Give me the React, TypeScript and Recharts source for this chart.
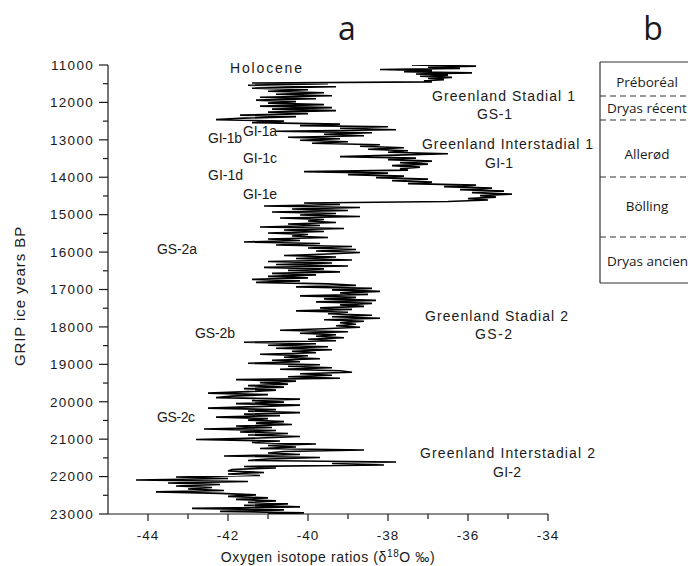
import React from 'react';
import { ScatterChart, Scatter, XAxis, YAxis } from 'recharts';

// GRIP record: [age (ice years BP), d18O (permil)]
const preboreal: [number, number][] = [
  [11000, -37.4], [11030, -35.8], [11060, -37.0], [11090, -36.2], [11120, -38.2],
  [11150, -36.9], [11180, -37.6], [11210, -35.9], [11240, -37.3], [11270, -36.5],
  [11300, -37.2], [11330, -36.4], [11360, -37.0], [11390, -36.6], [11420, -37.1],
  [11450, -36.9],
];

const stadialGS1: [number, number][] = [
  [11480, -41.4], [11500, -39.5], [11540, -41.5], [11580, -39.3], [11620, -41.4],
  [11660, -40.0], [11700, -41.0], [11740, -39.6], [11780, -40.8], [11820, -39.4],
  [11860, -41.2], [11900, -39.8], [11940, -41.3], [11980, -40.3], [12020, -41.0],
  [12060, -39.6], [12100, -41.2], [12140, -39.4], [12180, -40.9], [12220, -39.3],
  [12260, -41.0], [12300, -40.0], [12340, -41.7], [12380, -40.3], [12420, -41.6],
  [12460, -42.3], [12500, -40.6], [12540, -41.4], [12580, -39.2], [12620, -40.2],
];

const interstadialGI1: [number, number][] = [
  [12650, -38.0], [12690, -39.2], [12730, -37.8], [12770, -40.8], [12810, -38.4],
  [12850, -39.6], [12890, -38.6], [12930, -40.5], [12970, -39.2], [13010, -40.2],
  [13050, -39.0], [13090, -39.9], [13130, -38.2], [13170, -38.7], [13210, -37.6],
  [13250, -38.5], [13290, -37.5], [13330, -38.0], [13370, -36.5], [13410, -37.8],
  [13450, -39.2], [13490, -37.3], [13530, -38.0], [13570, -36.9], [13610, -37.7],
  [13650, -37.0], [13690, -37.9], [13730, -37.2], [13770, -37.7], [13810, -37.5],
  [13850, -40.1], [13890, -38.0], [13930, -39.0], [13970, -37.6], [14010, -38.3],
  [14050, -37.0], [14090, -37.9], [14130, -36.9], [14170, -37.5], [14210, -35.8],
  [14250, -36.6], [14290, -35.4], [14330, -36.2], [14370, -35.1], [14410, -35.9],
  [14450, -34.9], [14490, -35.7], [14530, -35.3], [14570, -36.0], [14610, -35.5],
  [14650, -36.5],
];

const stadialGS2a: [number, number][] = [
  [14690, -40.1], [14730, -39.2], [14770, -41.1], [14810, -38.7], [14850, -40.4],
  [14890, -39.0], [14930, -40.9], [14970, -39.3], [15010, -40.2], [15050, -38.7],
  [15090, -40.7], [15130, -39.6], [15170, -40.0], [15210, -39.3], [15250, -40.5],
  [15290, -39.7], [15330, -41.2], [15370, -39.1], [15410, -40.6], [15450, -39.6],
  [15490, -41.0], [15530, -40.0], [15570, -40.4], [15610, -39.5], [15650, -41.0],
  [15690, -40.2], [15730, -41.6], [15770, -39.7], [15810, -40.8], [15850, -38.9],
  [15890, -40.0], [15930, -38.8], [15970, -39.8], [16010, -38.7], [16050, -39.5],
  [16090, -40.6], [16130, -39.3], [16170, -40.3], [16210, -38.9], [16250, -41.0],
  [16290, -39.4], [16330, -40.8], [16370, -39.0], [16410, -41.1], [16450, -39.6],
  [16490, -40.5], [16530, -39.2], [16570, -40.9], [16610, -39.8], [16650, -41.0],
  [16690, -40.0], [16730, -41.4], [16770, -40.2], [16810, -41.3], [16850, -39.5],
];

const stadialGS2b: [number, number][] = [
  [16890, -38.8], [16930, -40.3], [16970, -38.4], [17010, -39.4], [17050, -38.2],
  [17090, -39.2], [17130, -38.5], [17170, -40.2], [17210, -38.8], [17250, -39.6],
  [17290, -38.3], [17330, -39.8], [17370, -38.4], [17410, -39.2], [17450, -38.6],
  [17490, -39.7], [17530, -38.9], [17570, -40.3], [17610, -39.0], [17650, -39.5],
  [17690, -38.4], [17730, -39.4], [17770, -38.2], [17810, -39.6], [17850, -38.6],
  [17890, -39.2], [17930, -38.8], [17970, -39.3], [18010, -38.7], [18050, -39.6],
  [18090, -40.7], [18130, -39.0], [18170, -40.2], [18210, -39.3], [18250, -39.8],
  [18290, -39.1], [18330, -40.0], [18370, -39.3], [18410, -41.6], [18450, -39.8],
  [18490, -41.0], [18530, -39.5], [18570, -40.8], [18610, -39.4], [18650, -40.4],
  [18690, -39.8], [18730, -41.2], [18770, -40.0], [18810, -40.6], [18850, -39.7],
  [18890, -40.9], [18930, -40.2], [18970, -41.5], [19010, -39.7], [19050, -40.5],
  [19090, -39.4], [19130, -40.7], [19170, -39.2], [19210, -38.9], [19250, -40.2],
  [19290, -39.4], [19330, -40.5], [19370, -39.2], [19410, -41.8], [19450, -40.3],
  [19490, -41.2], [19530, -40.5], [19570, -41.5], [19610, -40.6], [19650, -41.6],
  [19690, -40.8], [19730, -41.5],
];

const stadialGS2c: [number, number][] = [
  [19770, -42.5], [19810, -41.0], [19850, -41.9], [19890, -42.3], [19930, -40.2],
  [19970, -41.4], [20010, -40.6], [20050, -41.8], [20090, -40.2], [20130, -41.3],
  [20170, -42.5], [20210, -40.8], [20250, -41.5], [20290, -40.2], [20330, -41.6],
  [20370, -40.7], [20410, -42.3], [20450, -41.0], [20490, -41.5], [20530, -40.6],
  [20570, -41.3], [20610, -40.4], [20650, -41.8], [20690, -40.9], [20730, -42.6],
  [20770, -40.8], [20810, -41.7], [20850, -40.5], [20890, -41.5], [20930, -40.2],
  [20970, -41.2], [21010, -42.8], [21050, -40.7], [21090, -41.4], [21130, -39.8],
  [21170, -41.0], [21210, -40.3], [21250, -41.2], [21290, -38.6], [21330, -40.6],
  [21370, -41.0], [21410, -40.2], [21450, -42.1], [21490, -39.7], [21530, -41.0],
  [21570, -41.5], [21610, -37.8], [21650, -39.4], [21690, -38.1], [21730, -41.6],
  [21770, -40.8], [21810, -41.9], [21850, -42.0], [21890, -41.1], [21930, -42.0],
  [21970, -41.2], [22010, -43.3], [22050, -42.0], [22090, -44.3], [22130, -41.5],
  [22170, -43.5], [22210, -42.2], [22250, -43.3], [22290, -42.4], [22330, -43.0],
  [22370, -42.1], [22410, -43.8], [22450, -42.2], [22490, -41.3], [22530, -42.0],
  [22570, -41.0], [22610, -41.8], [22650, -40.8], [22690, -41.5], [22730, -40.5],
  [22770, -41.6], [22810, -40.2], [22850, -42.9], [22890, -40.6], [22930, -42.2],
  [22970, -40.1], [23000, -41.0],
];

const ageTicks = [
  11000, 11500, 12000, 12500, 13000, 13500, 14000, 14500, 15000, 15500, 16000, 16500,
  17000, 17500, 18000, 18500, 19000, 19500, 20000, 20500, 21000, 21500, 22000, 22500, 23000,
];
const isotopeTicks = [-44, -43, -42, -41, -40, -39, -38, -37, -36, -35, -34];

// chronozones of panel b (label, baseline y)
const chronozones = [
  { name: 'Préboréal', y: 87, center: true },
  { name: 'Dryas récent', y: 113, center: false },
  { name: 'Allerød', y: 159, center: true },
  { name: 'Bölling', y: 211, center: true },
  { name: 'Dryas ancien', y: 266, center: false },
];
const zoneBorders = [96, 120, 177, 237];

const record = [
  ...preboreal,
  ...stadialGS1,
  ...interstadialGI1,
  ...stadialGS2a,
  ...stadialGS2b,
  ...stadialGS2c,
].map(([age, d]) => ({ age, d }));

const SANS = '"Liberation Sans", Arial, Helvetica, sans-serif';
const HUMANIST = '"Open Sans", "Noto Sans", sans-serif';
const INK = '#1a1a1a';

const AgeTick = (props: any) => {
  const { x, y, payload } = props;
  const major = payload.value % 1000 === 0;
  return (
    <g>
      <line x1={x} x2={x - (major ? 9 : 5)} y1={y} y2={y} stroke={INK} strokeWidth={1.2} />
      {major && (
        <text x={x - 14} y={y} dy={4.8} textAnchor="end" fontSize={13.5} letterSpacing={1.3}
          fontFamily={SANS} fill={INK}>
          {payload.value}
        </text>
      )}
    </g>
  );
};

const IsotopeTick = (props: any) => {
  const { x, y, payload } = props;
  const major = payload.value % 2 === 0;
  return (
    <g>
      <line x1={x} x2={x} y1={y} y2={y + (major ? 7 : 5)} stroke={INK} strokeWidth={1.2} />
      {major && (
        <text x={x} y={y + 26} textAnchor="middle" fontSize={13.5} letterSpacing={1}
          fontFamily={SANS} fill={INK}>
          {payload.value}
        </text>
      )}
    </g>
  );
};

const noPoint = () => <g />;

const Annot = ({ x, y, w, children }: { x: number; y: number; w: number; children: string }) => (
  <text x={x} y={y} textLength={w} lengthAdjust="spacing" fontSize={14} fontFamily={SANS} fill={INK}>
    {children}
  </text>
);

export default function App() {
  return (
    <div style={{ position: 'absolute', left: 0, top: 0, width: 688, height: 566, background: '#fff', overflow: 'hidden' }}>
      <ScatterChart width={688} height={566} margin={{ top: 65, right: 140, bottom: 22, left: 48 }}>
        <XAxis
          type="number"
          dataKey="d"
          domain={[-45, -34]}
          ticks={isotopeTicks}
          interval={0}
          height={30}
          tickSize={0}
          tickMargin={0}
          tickLine={false}
          tick={IsotopeTick}
          axisLine={{ stroke: INK, strokeWidth: 1.2 }}
          allowDataOverflow
        />
        <YAxis
          type="number"
          dataKey="age"
          domain={[11000, 23000]}
          reversed
          ticks={ageTicks}
          interval={0}
          width={60}
          tickSize={0}
          tickMargin={0}
          tickLine={false}
          tick={AgeTick}
          axisLine={{ stroke: INK, strokeWidth: 1.2 }}
          allowDataOverflow
        />
        <Scatter
          data={record}
          fill="none"
          shape={noPoint}
          line={{ stroke: '#000', strokeWidth: 1.6 }}
          lineJointType="linear"
          isAnimationActive={false}
        />
      </ScatterChart>

      <svg width={688} height={566} style={{ position: 'absolute', left: 0, top: 0, pointerEvents: 'none' }}>
        <text x={347} y={40} textAnchor="middle" fontSize={32} fontFamily={HUMANIST} fill={INK}>a</text>
        <text x={653} y={40} textAnchor="middle" fontSize={32} fontFamily={HUMANIST} fill={INK}>b</text>

        <Annot x={230} y={73} w={72}>Holocene</Annot>
        <Annot x={432} y={101} w={143}>Greenland Stadial 1</Annot>
        <Annot x={477} y={119} w={35}>GS-1</Annot>
        <Annot x={422} y={149} w={171}>Greenland Interstadial 1</Annot>
        <Annot x={485} y={168} w={28}>GI-1</Annot>
        <Annot x={425} y={321} w={143}>Greenland Stadial 2</Annot>
        <Annot x={475} y={339} w={37}>GS-2</Annot>
        <Annot x={420} y={458} w={175}>Greenland Interstadial 2</Annot>
        <Annot x={493} y={477} w={28}>GI-2</Annot>

        <Annot x={208} y={143} w={34}>GI-1b</Annot>
        <Annot x={243} y={136} w={34}>GI-1a</Annot>
        <Annot x={243} y={163} w={34}>GI-1c</Annot>
        <Annot x={208} y={180} w={35}>GI-1d</Annot>
        <Annot x={243} y={199} w={34}>GI-1e</Annot>
        <Annot x={157} y={254} w={40}>GS-2a</Annot>
        <Annot x={195} y={338} w={40}>GS-2b</Annot>
        <Annot x={157} y={422} w={38}>GS-2c</Annot>

        <text x={328} y={562} textAnchor="middle" fontSize={14} letterSpacing={0.6} fontFamily={SANS} fill={INK}>
          Oxygen isotope ratios (δ<tspan dy={-5} fontSize={10}>18</tspan><tspan dy={5}>O ‰)</tspan>
        </text>
        <text
          x={21}
          y={296}
          transform="rotate(-90 21 296)"
          textAnchor="middle"
          dominantBaseline="middle"
          fontSize={15}
          letterSpacing={0.9}
          fontFamily={SANS}
          fill={INK}
        >
          GRIP ice years BP
        </text>

        {/* panel b frame: open on the right, where the figure is cut */}
        <line x1={600} x2={688} y1={62} y2={62} stroke="#333" strokeWidth={1.2} />
        <line x1={600} x2={600} y1={62} y2={283} stroke="#333" strokeWidth={1.2} />
        <line x1={600} x2={688} y1={283} y2={283} stroke="#333" strokeWidth={1.2} />
        {zoneBorders.map((y) => (
          <line key={y} x1={600} x2={688} y1={y} y2={y} stroke="#333" strokeWidth={1.1} strokeDasharray="6 4" />
        ))}
        {chronozones.map((z) => (
          <text
            key={z.name}
            x={z.center ? 647 : 607}
            y={z.y}
            textAnchor={z.center ? 'middle' : 'start'}
            fontSize={13.5}
            fontFamily={HUMANIST}
            fill={INK}
          >
            {z.name}
          </text>
        ))}
      </svg>
    </div>
  );
}
